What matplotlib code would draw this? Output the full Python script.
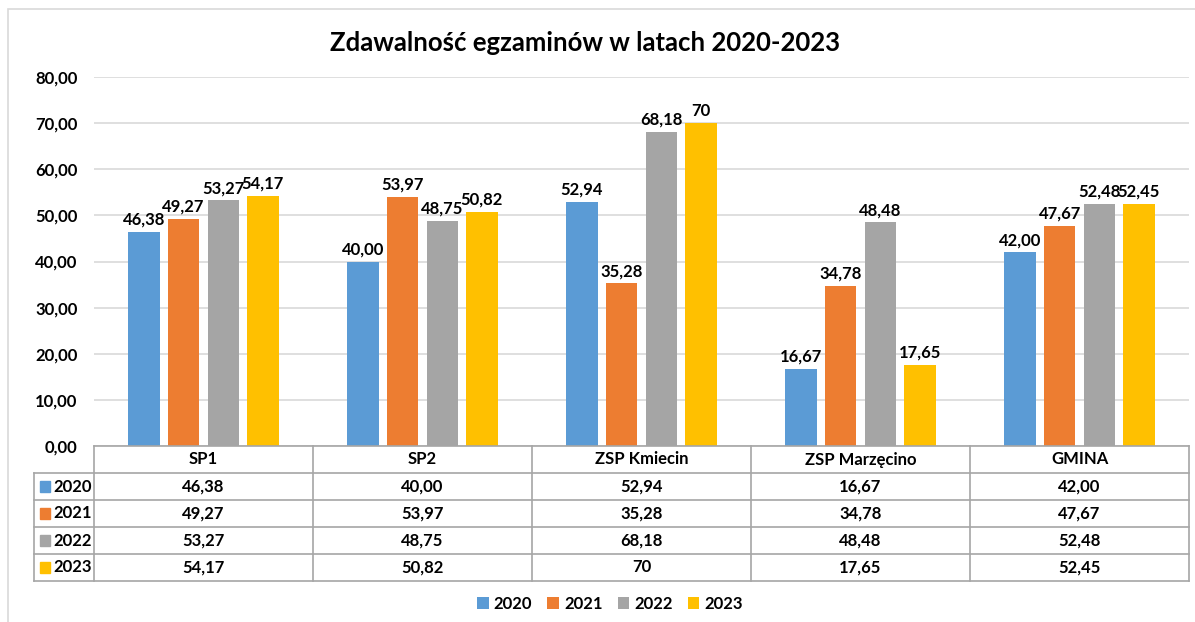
import matplotlib.pyplot as plt
from matplotlib.patches import Rectangle

plt.rcParams["font.family"] = ["Lato", "DejaVu Sans"]
plt.rcParams["font.weight"] = "bold"

schools = ["SP1", "SP2", "ZSP Kmiecin", "ZSP Marzęcino", "GMINA"]
years = ["2020", "2021", "2022", "2023"]

# values as shown in the data table
labels_2020 = ["46,38", "40,00", "52,94", "16,67", "42,00"]
labels_2021 = ["49,27", "53,97", "35,28", "34,78", "47,67"]
labels_2022 = ["53,27", "48,75", "68,18", "48,48", "52,48"]
labels_2023 = ["54,17", "50,82", "70", "17,65", "52,45"]

yticks = [0, 10, 20, 30, 40, 50, 60, 70, 80]
colors = ["#5B9BD5", "#ED7D31", "#A5A5A5", "#FFC000"]

all_labels = [labels_2020, labels_2021, labels_2022, labels_2023]
all_values = [[float(s.replace(",", ".")) for s in row] for row in all_labels]

W, H = 1195, 622
fig = plt.figure(figsize=(W / 100, H / 100), dpi=100)
fs = 12

# outer frame
fig.patches.append(Rectangle((8 / W, -0.1), 1.2, 1 - 9 / H + 0.1,
                             transform=fig.transFigure, fill=False,
                             edgecolor="#d9d9d9", linewidth=1.2))

left, right = 94, 1189
top, base = 77, 446
ax = fig.add_axes([left / W, (H - base) / H, (right - left) / W, (base - top) / H])

pitch = 0.181
width = 0.142
for i, (vals, labs) in enumerate(zip(all_values, all_labels)):
    xs = [k + (i - 1.5) * pitch for k in range(len(schools))]
    bars = ax.bar(xs, vals, width, color=colors[i], label=years[i], zorder=3)
    for b, lab in zip(bars, labs):
        ax.annotate(lab, (b.get_x() + b.get_width() / 2, b.get_height()),
                    xytext=(0, 3), textcoords="offset points",
                    ha="center", va="bottom", fontsize=fs, fontweight="bold")

ax.set_xlim(-0.5, len(schools) - 0.5)
ax.set_ylim(0, 80)
ax.set_yticks(yticks)
ax.set_yticklabels([f"{t:.2f}".replace(".", ",") for t in yticks],
                   fontsize=fs, fontweight="bold")
ax.set_xticks([])
ax.tick_params(axis="y", length=0, pad=12)
ax.grid(axis="y", color="#d9d9d9", linewidth=1.2, zorder=0)
for s in ax.spines.values():
    s.set_visible(False)

# data table under the plot
tbot = 581
tax = fig.add_axes([left / W, (H - tbot) / H, (right - left) / W, (tbot - base) / H])
tax.set_xlim(-0.5, len(schools) - 0.5)
tax.set_ylim(len(years) + 1, 0)
tax.axis("off")
line_kw = dict(color="#a6a6a6", linewidth=1.2, clip_on=False)
label_w = (left - 34) / ((right - left) / len(schools))
x0 = -0.5 - label_w

tax.plot([-0.5, len(schools) - 0.5], [0, 0], **line_kw)
for r in range(1, len(years) + 2):
    tax.plot([x0, len(schools) - 0.5], [r, r], **line_kw)
for c in range(len(schools) + 1):
    tax.plot([c - 0.5, c - 0.5], [0, len(years) + 1], **line_kw)
tax.plot([x0, x0], [1, len(years) + 1], **line_kw)

for c, name in enumerate(schools):
    tax.text(c, 0.5, name, ha="center", va="center", fontsize=fs, fontweight="bold")
for r, labs in enumerate(all_labels):
    for c, lab in enumerate(labs):
        tax.text(c, r + 1.5, lab, ha="center", va="center", fontsize=fs, fontweight="bold")
    tax.add_patch(Rectangle((x0 + 0.028, r + 1.3), 0.046, 0.4,
                            color=colors[r], clip_on=False))
    tax.text(x0 + 0.088, r + 1.5, years[r], ha="left", va="center",
             fontsize=fs, fontweight="bold", clip_on=False)

fig.text(585 / W, 1 - 43 / H, "Zdawalność egzaminów w latach 2020-2023",
         ha="center", va="center", fontsize=18.5, fontweight="bold")

fig.legend(loc="center", bbox_to_anchor=(610 / W, 1 - 604 / H), ncol=4,
           frameon=False, fontsize=fs, handlelength=0.7, handleheight=0.7,
           handletextpad=0.3, columnspacing=0.9)

fig.savefig("out.png", dpi=100)
